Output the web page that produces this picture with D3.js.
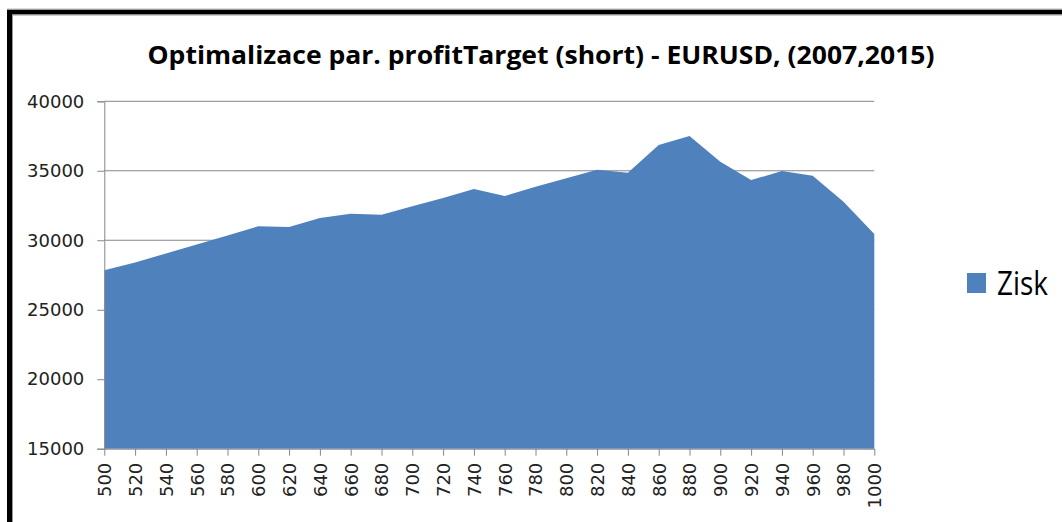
<!DOCTYPE html>
<html>
<head>
<meta charset="utf-8">
<script src="https://cdn.jsdelivr.net/npm/d3@7"></script>
<style>
  html, body { margin: 0; padding: 0; background: #fff; }
  svg { display: block; }
</style>
</head>
<body>
<svg width="1062" height="522"></svg>
<script>
var categories = ["500", "520", "540", "560", "580", "600", "620", "640", "660", "680",
  "700", "720", "740", "760", "780", "800", "820", "840", "860", "880",
  "900", "920", "940", "960", "980", "1000"];
var zisk = [27850, 28400, 29050, 29700, 30350, 31000, 30950, 31600, 31900, 31830,
  32450, 33050, 33680, 33180, 33850, 34470, 35070, 34860, 36850, 37500,
  35650, 34330, 34980, 34640, 32770, 30450];
var yTicks = [15000, 20000, 25000, 30000, 35000, 40000];
var title = "Optimalizace par. profitTarget (short) - EURUSD, (2007,2015)";
var seriesName = "Zisk";

var svg = d3.select("svg");
var width = 1062, height = 522;
var margin = {top: 101.3, bottom: 73.3, left: 104.3, right: 187.7};
var blue = "#4f81bd", grey = "#868686";

// frame
svg.append("rect").attr("x", 9.5).attr("y", 12).attr("width", 1100).attr("height", 600)
  .attr("fill", "none").attr("stroke", "#000").attr("stroke-width", 5);
svg.append("rect").attr("x", 12.5).attr("y", 15).attr("width", 1100).attr("height", 600)
  .attr("fill", "none").attr("stroke", "#999").attr("stroke-width", 1);
svg.append("line").attr("x1", 7).attr("x2", 1062).attr("y1", 9).attr("y2", 9)
  .attr("stroke", "#bbb").attr("stroke-width", 1);

var xScale = d3.scalePoint()
  .domain(categories)
  .range([margin.left, width - margin.right]);

var yScale = d3.scaleLinear()
  .domain([15000, 40000])
  .range([height - margin.bottom, margin.top]);

// gridlines
svg.append("g").selectAll("line")
  .data(yTicks.slice(1))
  .enter().append("line")
  .attr("x1", margin.left).attr("x2", width - margin.right)
  .attr("y1", function (d) { return yScale(d); })
  .attr("y2", function (d) { return yScale(d); })
  .attr("stroke", grey).attr("stroke-width", 1);

// area
var area = d3.area()
  .x(function (d, i) { return xScale(categories[i]); })
  .y0(yScale(15000))
  .y1(function (d) { return yScale(d); });

svg.append("path")
  .datum(zisk)
  .attr("d", area)
  .attr("fill", blue);

// y axis
var yAxis = svg.append("g")
  .attr("transform", "translate(" + margin.left + ",0)")
  .call(d3.axisLeft(yScale).tickValues(yTicks).tickSize(7).tickPadding(13).tickFormat(d3.format("d")));
yAxis.selectAll("path, line").attr("stroke", grey);
yAxis.selectAll("text")
  .attr("font-family", "DejaVu Sans").attr("font-size", 18).attr("fill", "#222");

// x axis
var xAxis = svg.append("g")
  .attr("transform", "translate(0," + yScale(15000) + ")")
  .call(d3.axisBottom(xScale).tickSize(7).tickSizeOuter(0));
xAxis.selectAll("path, line").attr("stroke", grey);
xAxis.selectAll("text")
  .attr("font-family", "DejaVu Sans").attr("font-size", 18).attr("fill", "#222")
  .attr("transform", "rotate(-90)")
  .attr("text-anchor", "end")
  .attr("x", -14).attr("y", 0).attr("dy", "0.35em");

// title
svg.append("text")
  .attr("x", 541).attr("y", 64)
  .attr("text-anchor", "middle")
  .attr("font-family", "Open Sans").attr("font-weight", "bold").attr("font-size", 25)
  .attr("textLength", 787).attr("lengthAdjust", "spacingAndGlyphs")
  .attr("fill", "#000")
  .text(title);

// legend
svg.append("rect").attr("x", 967).attr("y", 273).attr("width", 19).attr("height", 20)
  .attr("fill", blue);
svg.append("text")
  .attr("x", 997).attr("y", 295)
  .attr("font-family", "Open Sans").attr("font-size", 33)
  .attr("textLength", 51).attr("lengthAdjust", "spacingAndGlyphs")
  .attr("fill", "#000")
  .text(seriesName);
</script>
</body>
</html>
